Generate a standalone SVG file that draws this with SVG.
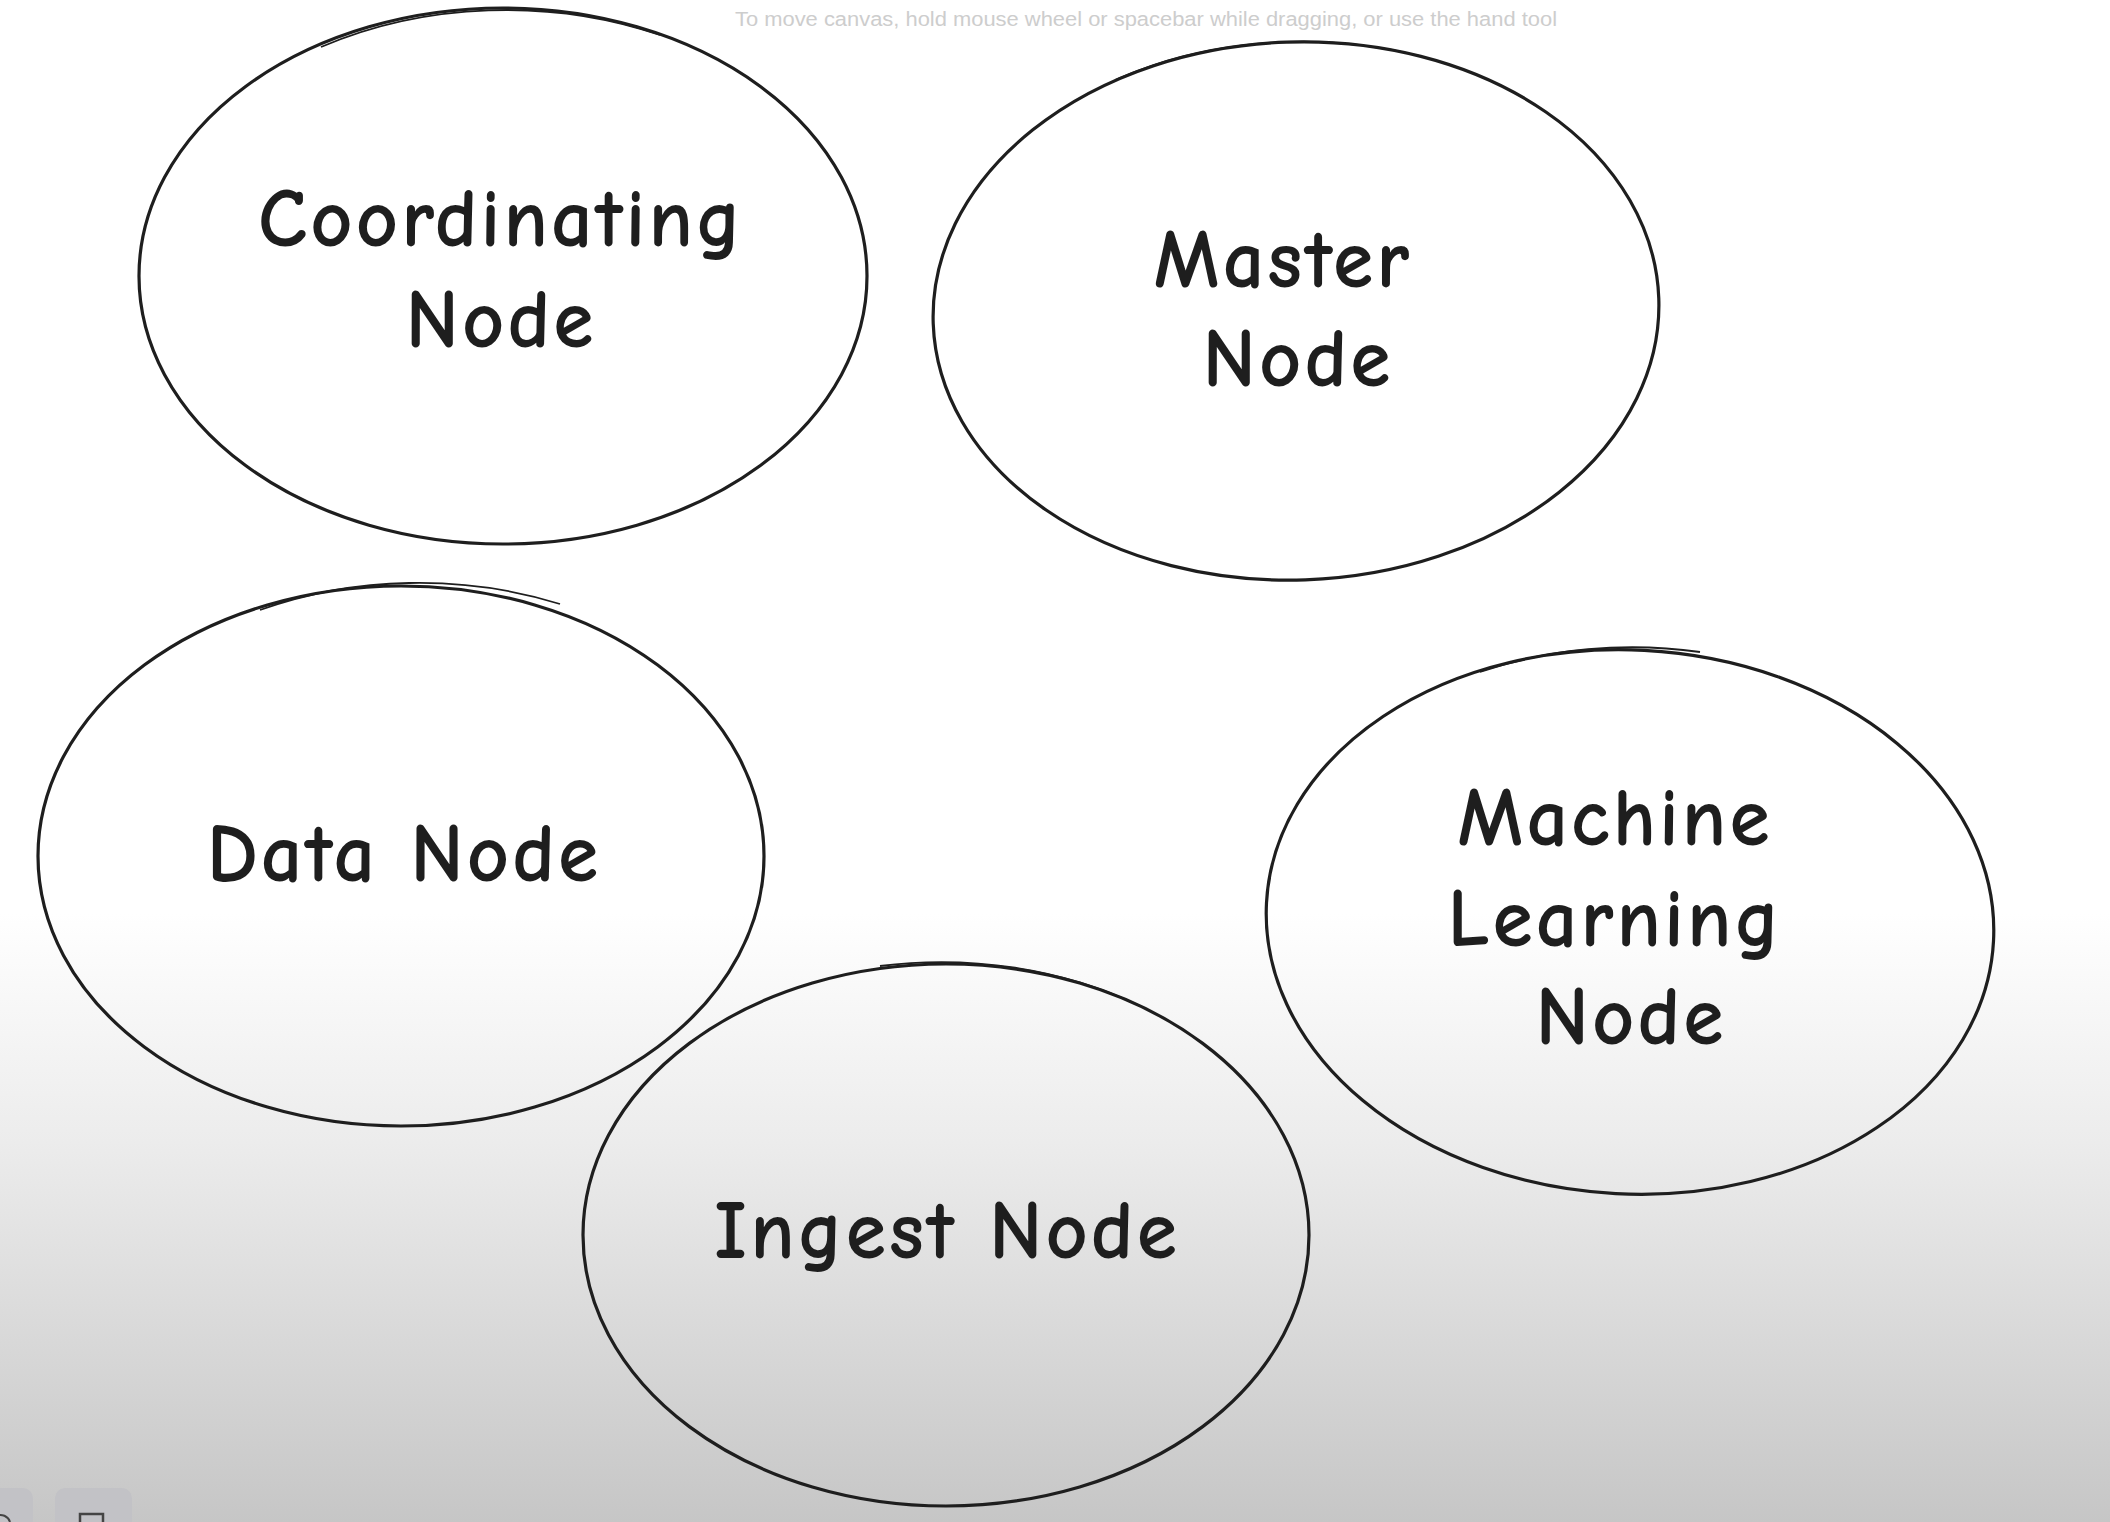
<svg xmlns="http://www.w3.org/2000/svg" width="2110" height="1522" viewBox="0 0 2110 1522">
  <defs>
    <linearGradient id="bg" x1="0" y1="0" x2="0" y2="1">
      <stop offset="0" stop-color="#ffffff"/>
      <stop offset="0.6" stop-color="#ffffff"/>
      <stop offset="0.75" stop-color="#ececec"/>
      <stop offset="1" stop-color="#c6c6c6"/>
    </linearGradient>
  </defs>
  <style>
    .node { fill: none; stroke: #1e1e1e; stroke-width: 3.2; }
    .sketch { fill: none; stroke: #1e1e1e; stroke-width: 1.8; }
    .label { font-family: "Comic Neue", "Open Sans", "Liberation Sans", sans-serif; font-size: 82px; font-weight: 700; fill: #1e1e1e; text-anchor: middle; letter-spacing: 3px; }
    .hint { font-family: "Liberation Sans Narrow", "Liberation Sans", sans-serif; font-size: 20px; fill: #cdcdcd; }
    .btn { fill: #c2c2c6; }
  </style>
  <rect x="0" y="0" width="2110" height="1522" fill="url(#bg)"/>
  <text class="hint" x="735" y="26" textLength="822" lengthAdjust="spacingAndGlyphs">To move canvas, hold mouse wheel or spacebar while dragging, or use the hand tool</text>

  <g id="coordinating-node">
    <ellipse class="node" cx="503" cy="276" rx="364" ry="268"/>
    <path class="sketch" d="M 321 47 A 367 271 0 0 1 660 35"/>
    <text class="label" x="501" y="246">Coordinating</text>
    <text class="label" x="501" y="347">Node</text>
  </g>
  <g id="master-node">
    <ellipse class="node" cx="1296" cy="311" rx="363" ry="269" transform="rotate(-2 1296 311)"/>
    <path class="sketch" d="M 1115 80 A 366 272 0 0 1 1420 56"/>
    <text class="label" x="1283" y="287">Master</text>
    <text class="label" x="1298" y="386">Node</text>
  </g>
  <g id="data-node">
    <ellipse class="node" cx="401" cy="856" rx="363" ry="270"/>
    <path class="sketch" d="M 260 610 A 366 273 0 0 1 560 604"/>
    <text class="label" x="404" y="881">Data Node</text>
  </g>
  <g id="machine-learning-node">
    <ellipse class="node" cx="1630" cy="922" rx="364" ry="272" transform="rotate(3 1630 922)"/>
    <path class="sketch" d="M 1480 672 A 367 275 0 0 1 1700 652"/>
    <text class="label" x="1615" y="845">Machine</text>
    <text class="label" x="1615" y="946">Learning</text>
    <text class="label" x="1631" y="1044">Node</text>
  </g>
  <g id="ingest-node">
    <ellipse class="node" cx="946" cy="1235" rx="363" ry="271"/>
    <path class="sketch" d="M 880 966 A 366 274 0 0 1 1140 1006"/>
    <text class="label" x="947" y="1258">Ingest Node</text>
  </g>

  <g id="connectors"></g>

  <g id="toolbar">
    <rect class="btn" x="-20" y="1488" width="53" height="50" rx="10"/>
    <rect class="btn" x="55" y="1488" width="77" height="50" rx="10"/>
    <path d="M -4 1516 A 10 10 0 0 1 10 1522" fill="none" stroke="#444" stroke-width="2"/>
    <path d="M 80 1522 V 1514 H 103 V 1522" fill="none" stroke="#444" stroke-width="2.5"/>
  </g>
</svg>
